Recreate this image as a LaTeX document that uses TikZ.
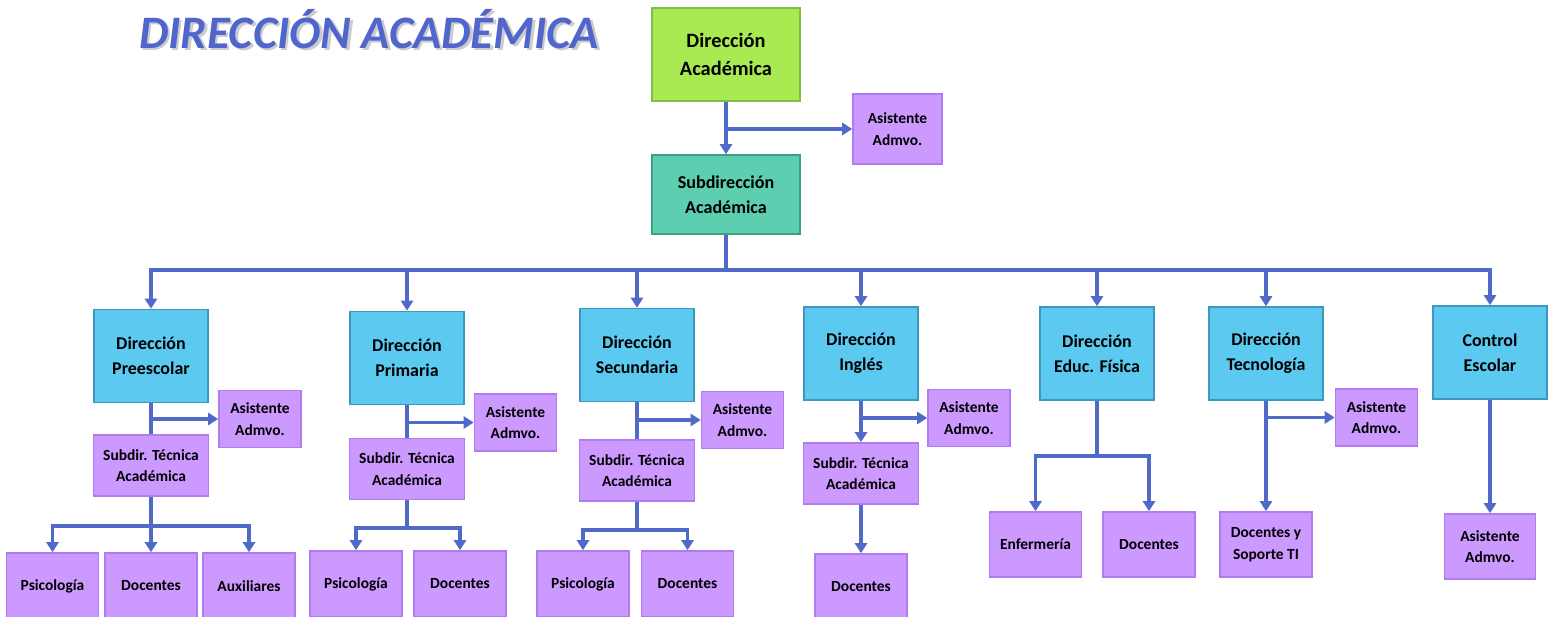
\documentclass[tikz,border=0pt]{standalone}
\usepackage{fontspec}
\setmainfont{Carlito}
\usetikzlibrary{arrows.meta}
\definecolor{lineblue}{RGB}{80,106,202}
\definecolor{titleblue}{RGB}{80,102,204}
\definecolor{gfill}{RGB}{169,234,82}
\definecolor{gdraw}{RGB}{130,190,70}
\definecolor{tfill}{RGB}{94,206,176}
\definecolor{tdraw}{RGB}{60,160,132}
\definecolor{bfill}{RGB}{92,202,240}
\definecolor{bdraw}{RGB}{62,152,190}
\definecolor{pfill}{RGB}{204,153,255}
\definecolor{pdraw}{RGB}{178,122,242}
\tikzset{
  basebox/.style={rectangle, inner sep=1pt, align=center, line width=0.9pt, text=black},
  topbox/.style={basebox, fill=gfill, draw=gdraw, minimum width=2.96cm, minimum height=1.86cm, font=\bfseries\fontsize{11.6}{15.5}\selectfont},
  subbox/.style={basebox, fill=tfill, draw=tdraw, minimum width=2.96cm, minimum height=1.58cm, font=\bfseries\fontsize{10.3}{14.5}\selectfont},
  dirbox/.style={basebox, fill=bfill, draw=bdraw, minimum width=2.28cm, minimum height=1.86cm, font=\bfseries\fontsize{10.2}{14.2}\selectfont},
  asisbox/.style={basebox, fill=pfill, draw=pdraw, minimum width=1.64cm, minimum height=1.14cm, font=\bfseries\fontsize{8.8}{12.3}\selectfont},
  stbox/.style={basebox, fill=pfill, draw=pdraw, minimum width=2.3cm, minimum height=1.22cm, font=\bfseries\fontsize{8.8}{12.3}\selectfont},
  leafbox/.style={basebox, fill=pfill, draw=pdraw, minimum width=1.84cm, minimum height=1.32cm, font=\bfseries\fontsize{8.8}{12.3}\selectfont},
  conn/.style={draw=lineblue, line width=2pt, -{Triangle[length=0.2cm,width=0.24cm]}},
  plain/.style={draw=lineblue, line width=2pt},
}
\begin{document}
\begin{tikzpicture}[x=0.02cm,y=-0.02cm]
\useasboundingbox (0,0) rectangle (1554,617);
% title
\node[text=gray!40, font=\bfseries\itshape\fontsize{26.5}{30}\selectfont] (titleshadow) at (371.5,31.5) {DIRECCIÓN ACADÉMICA};
\node[text=titleblue, font=\bfseries\itshape\fontsize{26.5}{30}\selectfont] (title) at (369,29) {DIRECCIÓN ACADÉMICA};
% top
\node[topbox] (da) at (726,54.5) {Dirección\\Académica};
\node[asisbox, minimum width=1.78cm, minimum height=1.4cm] (a0) at (897.5,129) {Asistente\\Admvo.};
\node[subbox] (sa) at (726,194.5) {Subdirección\\Académica};
% level 2
\node[dirbox] (pre) at (151,356) {Dirección\\Preescolar};
\node[dirbox] (pri) at (407,358) {Dirección\\Primaria};
\node[dirbox] (sec) at (637,355) {Dirección\\Secundaria};
\node[dirbox] (ing) at (861,353.5) {Dirección\\Inglés};
\node[dirbox] (ef) at (1097,353.5) {Dirección\\Educ. Física};
\node[dirbox] (tec) at (1266,353.5) {Dirección\\Tecnología};
\node[dirbox] (ce) at (1490,352.5) {Control\\Escolar};
% assistants
\node[asisbox] (a1) at (260,419) {Asistente\\Admvo.};
\node[asisbox] (a2) at (515.5,422.5) {Asistente\\Admvo.};
\node[asisbox] (a3) at (742.5,420) {Asistente\\Admvo.};
\node[asisbox] (a4) at (969,418) {Asistente\\Admvo.};
\node[asisbox] (a6) at (1376.5,417.5) {Asistente\\Admvo.};
% subdirs
\node[stbox] (s1) at (151,465.5) {Subdir. Técnica\\Académica};
\node[stbox] (s2) at (407,469) {Subdir. Técnica\\Académica};
\node[stbox] (s3) at (637,470.5) {Subdir. Técnica\\Académica};
\node[stbox] (s4) at (861,473.5) {Subdir. Técnica\\Académica};
% leaves
\node[leafbox] (p1) at (52.5,586) {Psicología};
\node[leafbox] (p2) at (151,586) {Docentes};
\node[leafbox] (p3) at (249,586) {Auxiliares};
\node[leafbox] (q1) at (356,584) {Psicología};
\node[leafbox] (q2) at (460,584) {Docentes};
\node[leafbox] (r1) at (583,584) {Psicología};
\node[leafbox] (r2) at (687.5,584) {Docentes};
\node[leafbox] (d4) at (861,587) {Docentes};
\node[leafbox, minimum height=1.3cm] (e1) at (1035.5,544.5) {Enfermería};
\node[leafbox, minimum height=1.3cm] (e2) at (1149,544.5) {Docentes};
\node[leafbox, minimum height=1.3cm] (t1) at (1266,544.5) {Docentes y\\Soporte TI};
\node[leafbox, minimum height=1.3cm, minimum width=1.82cm] (c1) at (1490,546.5) {Asistente\\Admvo.};
% connectors top
\draw[conn] (da.south) -- (sa.north);
\draw[conn] (da.south |- a0.west) -- (a0.west);
\coordinate (bus) at (726,270);
\draw[plain] (sa.south) -- (bus);
\foreach \n in {pre,pri,sec,ing,ef,tec,ce} \draw[conn] (bus) -| (\n.north);
% preescolar
\draw[plain] (pre.south) -- (s1.north);
\draw[conn] (pre.south |- a1.west) -- (a1.west);
\coordinate (b1) at (151,526);
\draw[plain] (s1.south) -- (b1);
\draw[conn] (b1) -| (p1.north);
\draw[conn] (b1) -- (p2.north);
\draw[conn] (b1) -| (p3.north);
% primaria
\draw[plain] (pri.south) -- (s2.north);
\draw[conn] (pri.south |- a2.west) -- (a2.west);
\coordinate (b2) at (407,528);
\draw[plain] (s2.south) -- (b2);
\draw[conn] (b2) -| (q1.north);
\draw[conn] (b2) -| (q2.north);
% secundaria
\draw[plain] (sec.south) -- (s3.north);
\draw[conn] (sec.south |- a3.west) -- (a3.west);
\coordinate (b3) at (637,530);
\draw[plain] (s3.south) -- (b3);
\draw[conn] (b3) -| (r1.north);
\draw[conn] (b3) -| (r2.north);
% ingles
\draw[conn] (ing.south) -- (s4.north);
\draw[conn] (ing.south |- a4.west) -- (a4.west);
\draw[conn] (s4.south) -- (d4.north);
% educ fisica
\coordinate (b5) at (1097,456);
\draw[plain] (ef.south) -- (b5);
\draw[conn] (b5) -| (e1.north);
\draw[conn] (b5) -| (e2.north);
% tecnologia
\draw[conn] (tec.south) -- (t1.north);
\draw[conn] (tec.south |- a6.west) -- (a6.west);
% control escolar
\draw[conn] (ce.south) -- (c1.north);
\end{tikzpicture}
\end{document}
